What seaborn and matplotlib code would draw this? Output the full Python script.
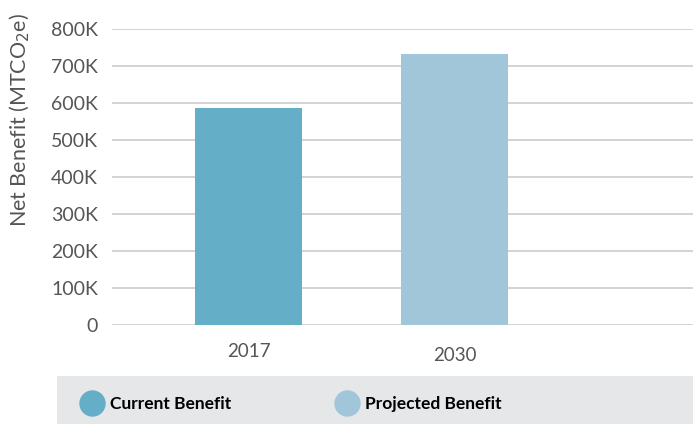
import matplotlib
matplotlib.use("Agg")
import matplotlib.pyplot as plt
from matplotlib.lines import Line2D
from matplotlib.patches import Rectangle
import matplotlib.transforms as mtransforms
import seaborn as sns
import pandas as pd

years = ["2017", "2030"]
net_benefit = [586000, 732000]
series_names = ["Current Benefit", "Projected Benefit"]
colors = ["#64aec8", "#a2c6d9"]
y_ticks = [0, 100000, 200000, 300000, 400000, 500000, 600000, 700000, 800000]
y_tick_labels = ["0", "100K", "200K", "300K", "400K", "500K", "600K", "700K", "800K"]

sns.set_style("white")
plt.rcParams["font.family"] = ["Lato", "DejaVu Sans"]

W, H = 693, 424
fig = plt.figure(figsize=(W / 100, H / 100), dpi=100)
ax = fig.add_axes([112 / W, 1 - 325 / H, 1 - 112 / W, (325 - 29) / H])

df = pd.DataFrame({"year": years, "value": net_benefit, "series": series_names})
sns.barplot(data=df, x="year", y="value", hue="series", palette=colors,
            width=0.52, dodge=False, legend=False, ax=ax, saturation=1,
            linewidth=0, zorder=3)

ax.set_xlim(-0.663, 2.158)
ax.set_ylim(0, 800000)
ax.set_yticks(y_ticks)
ax.set_yticklabels(y_tick_labels)
ax.yaxis.grid(True, color="#d0d0d0", linewidth=1.3, zorder=0)
ax.set_axisbelow(True)
for s in ax.spines.values():
    s.set_visible(False)
ax.tick_params(axis="y", length=0, pad=10, labelsize=14, labelcolor="#555555")
ax.tick_params(axis="x", length=0, pad=13, labelsize=13.5, labelcolor="#555555")
ax.set_xlabel("")
ax.set_ylabel("Net Benefit (MTCO$_2$e)", fontsize=15.5, color="#555555")
ax.yaxis.set_label_coords(-80 / (W - 112), (325 - 120) / 296)

# second year label sits a little lower
lbls = ax.get_xticklabels()
lbls[1].set_transform(lbls[1].get_transform() +
                      mtransforms.ScaledTranslation(0, -4 / 100, fig.dpi_scale_trans))

# legend band
fig.patches.append(Rectangle((57 / W, 0), 1 - 57 / W, (424 - 376) / H,
                             transform=fig.transFigure, facecolor="#e6e7e8",
                             edgecolor="none", zorder=0))
handles = [Line2D([], [], marker="o", linestyle="none", markersize=19,
                  markerfacecolor=c, markeredgecolor="none") for c in colors]
fig.legend(handles, series_names, loc="center left",
           bbox_to_anchor=(59 / W, 1 - 404 / H), ncol=2, frameon=False,
           handletextpad=0.05, columnspacing=5.65, labelcolor="#000000",
           prop={"weight": "bold", "size": 12.5})

fig.savefig("out.png", dpi=100)
